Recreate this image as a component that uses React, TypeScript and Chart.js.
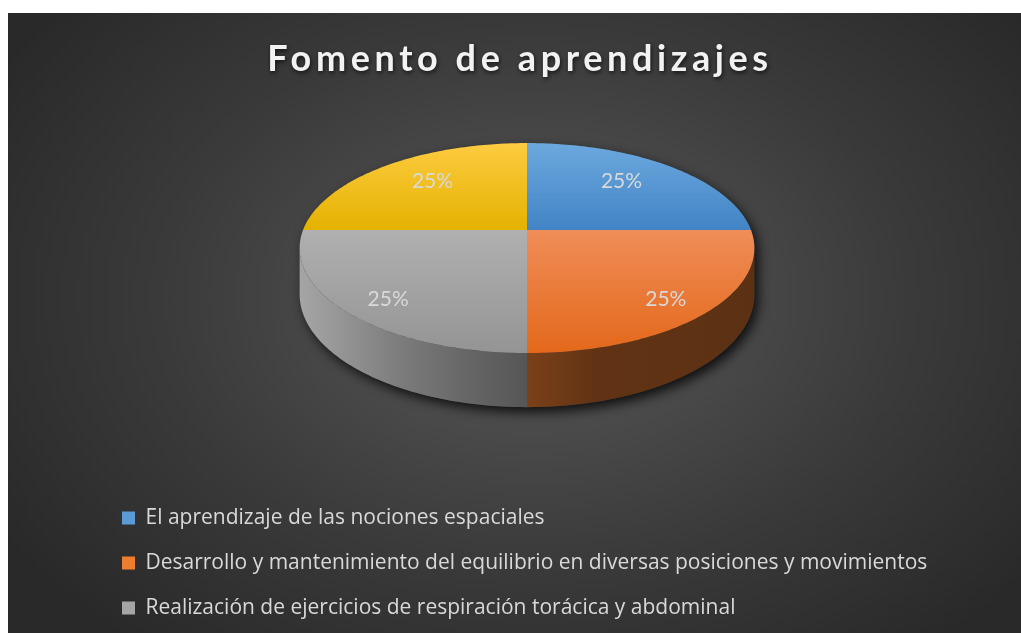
import React, { useEffect, useRef } from "react";
import { Chart, registerables } from "chart.js";

Chart.register(...registerables);

// ---- data ----
const TITLE = "Fomento de aprendizajes";
const categories = [
  "El aprendizaje de las nociones espaciales",
  "Desarrollo y mantenimiento del equilibrio en diversas posiciones y movimientos",
  "Realización de ejercicios de respiración torácica y abdominal",
  "", // 4th (yellow) category: its legend entry is cut off in the picture
];
const values = [25, 25, 25, 25];

// ---- styles ----
const baseColors = ["#5B9BD5", "#ED7D31", "#A5A5A5", "#FFC000"];
const topGradients = [
  ["#6ca8de", "#4184c5"],
  ["#f08d58", "#e3681b"],
  ["#b0b0b0", "#949494"],
  ["#fdcb40", "#e4b200"],
];
const sideShade: [number, number][] = [
  [0, 1.0],
  [0.06, 0.94],
  [0.22, 0.75],
  [0.37, 0.62],
  [0.5, 0.52],
  [0.65, 0.41],
  [1, 0.39],
];
const TILT = 0.455;
const PERSP = 0.1715;
const DEPTH = 0.2;
const LABEL_BACK = [0.65, 0.74];
const LABEL_FRONT = [0.785, 0.86];

function hexToRgb(h: string) {
  const n = parseInt(h.slice(1), 16);
  return [(n >> 16) & 255, (n >> 8) & 255, n & 255];
}
function shade(h: string, f: number) {
  const [r, g, b] = hexToRgb(h);
  const c = (v: number) => Math.max(0, Math.min(255, Math.round(v * f)));
  return `rgb(${c(r)},${c(g)},${c(b)})`;
}

const pie3d = {
  id: "pie3d",
  beforeDraw(chart: any) {
    const tb = chart.titleBlock;
    if (tb && !tb.__patched) {
      const orig = tb.draw;
      tb.draw = function (...args: any[]) {
        const c = this.ctx;
        c.save();
        try {
          (c as any).letterSpacing = "4.6px";
        } catch (e) {}
        c.shadowColor = "rgba(0,0,0,0.65)";
        c.shadowBlur = 4;
        c.shadowOffsetX = 1;
        c.shadowOffsetY = 2;
        c.translate(-7, 0);
        orig.apply(this, args);
        c.restore();
      };
      tb.__patched = true;
    }
  },
  beforeDatasetsDraw(chart: any) {
    const meta = chart.getDatasetMeta(0);
    const arcs = meta.data as any[];
    if (!arcs.length) return;
    const ctx: CanvasRenderingContext2D = chart.ctx;
    const a0 = arcs[0].getProps(["x", "y", "outerRadius"], true);
    const R = a0.outerRadius;
    const cx = a0.x;
    const cy =
      a0.y - (R * ((TILT + DEPTH) / (1 - PERSP) - TILT / (1 + PERSP))) / 2;
    const Pxy = (u: number, v: number, z: number): [number, number] => {
      const w = 1 / (1 - PERSP * v);
      return [cx + R * u * w, cy + R * (TILT * v + DEPTH * z) * w];
    };
    const P = (th: number, r: number, z: number) =>
      Pxy(r * Math.cos(th), r * Math.sin(th), z);
    const rim = (s: number, e: number, z: number) => {
      const n = Math.max(2, Math.ceil((Math.abs(e - s) / (2 * Math.PI)) * 360));
      const pts: [number, number][] = [];
      for (let i = 0; i <= n; i++) pts.push(P(s + ((e - s) * i) / n, 1, z));
      return pts;
    };
    const th0 = Math.asin(PERSP);
    const total = values.reduce((s, v) => s + v, 0);

    ctx.save();
    // silhouette with shadow
    const back = rim(Math.PI - th0, 2 * Math.PI + th0, 0);
    const front = rim(th0, Math.PI - th0, 1);
    ctx.beginPath();
    back.forEach((p, i) => (i ? ctx.lineTo(p[0], p[1]) : ctx.moveTo(p[0], p[1])));
    front.forEach((p) => ctx.lineTo(p[0], p[1]));
    ctx.closePath();
    ctx.save();
    ctx.shadowColor = "rgba(0,0,0,0.8)";
    ctx.shadowBlur = 12;
    ctx.shadowOffsetX = 4;
    ctx.shadowOffsetY = 5;
    ctx.fillStyle = "#3a3a3a";
    ctx.fill();
    ctx.restore();

    const xl = P(Math.PI - th0, 1, 0)[0];
    const xr = P(th0, 1, 0)[0];
    // side walls
    arcs.forEach((el: any, i: number) => {
      const a = el.getProps(["startAngle", "endAngle"], true);
      for (const off of [0, 2 * Math.PI, -2 * Math.PI]) {
        const s = Math.max(a.startAngle, th0 + off);
        const e = Math.min(a.endAngle, Math.PI - th0 + off);
        if (e <= s) continue;
        const top = rim(s, e, 0);
        const bot = rim(e, s, 1);
        ctx.beginPath();
        top.forEach((p, k) => (k ? ctx.lineTo(p[0], p[1]) : ctx.moveTo(p[0], p[1])));
        bot.forEach((p) => ctx.lineTo(p[0], p[1]));
        ctx.closePath();
        const g = ctx.createLinearGradient(xl, 0, xr, 0);
        sideShade.forEach(([t, f]) => g.addColorStop(t, shade(baseColors[i], f)));
        ctx.fillStyle = g;
        ctx.fill();
      }
    });

    // top faces
    arcs.forEach((el: any, i: number) => {
      const a = el.getProps(["startAngle", "endAngle"], true);
      const pts = rim(a.startAngle, a.endAngle, 0);
      pts.unshift([cx, cy]);
      let y0 = Infinity,
        y1 = -Infinity;
      pts.forEach((p) => {
        y0 = Math.min(y0, p[1]);
        y1 = Math.max(y1, p[1]);
      });
      ctx.beginPath();
      pts.forEach((p, k) => (k ? ctx.lineTo(p[0], p[1]) : ctx.moveTo(p[0], p[1])));
      ctx.closePath();
      const g = ctx.createLinearGradient(0, y0, 0, y1);
      g.addColorStop(0, topGradients[i][0]);
      g.addColorStop(1, topGradients[i][1]);
      ctx.fillStyle = g;
      ctx.fill();
    });

    // data labels
    ctx.font = "21px Lato";
    ctx.fillStyle = "#d9d9d9";
    ctx.textAlign = "center";
    ctx.textBaseline = "middle";
    arcs.forEach((el: any, i: number) => {
      const a = el.getProps(["startAngle", "endAngle"], true);
      const mid = (a.startAngle + a.endAngle) / 2;
      const [ru, rv] = Math.sin(mid) < 0 ? LABEL_BACK : LABEL_FRONT;
      const [x, y] = Pxy(ru * Math.cos(mid), rv * Math.sin(mid), 0);
      const pct = Math.round((values[i] / total) * 100) + "%";
      ctx.fillText(pct, x, y);
    });
    ctx.restore();
    return false;
  },
};

export default function App() {
  const ref = useRef<HTMLCanvasElement>(null);
  useEffect(() => {
    if (!ref.current) return;
    const chart = new Chart(ref.current, {
      type: "pie",
      data: {
        labels: categories,
        datasets: [
          {
            data: values,
            backgroundColor: baseColors,
            borderWidth: 0,
            radius: 224,
          } as any,
        ],
      },
      options: {
        responsive: false,
        animation: false,
        layout: { padding: { left: 90, right: 65, top: 0, bottom: 24.5 } },
        plugins: {
          title: {
            display: true,
            text: TITLE,
            color: "#f2f2f2",
            font: { family: "Lato", size: 36, weight: "bold", lineHeight: 1.2 },
            padding: { top: 25, bottom: -14.5 },
          },
          legend: {
            position: "bottom",
            align: "start",
            labels: {
              color: "#d9d9d9",
              font: { family: "'Open Sans'", size: 21 },
              boxWidth: 13,
              boxHeight: 13,
              padding: 24,
              filter: (item: any) => item.text !== "",
            },
          },
          tooltip: { enabled: false },
        },
      } as any,
      plugins: [pie3d],
    });
    return () => chart.destroy();
  }, []);
  return (
    <div
      style={{
        position: "fixed",
        left: 8,
        top: 13,
        width: 1013,
        height: 620,
        overflow: "hidden",
        background:
          "radial-gradient(ellipse 62% 72% at 52% 46%, #545454 0%, #4a4a4a 30%, #3a3a3a 60%, #292929 100%)",
      }}
    >
      <canvas ref={ref} width={1013} height={640} style={{ display: "block" }} />
    </div>
  );
}
